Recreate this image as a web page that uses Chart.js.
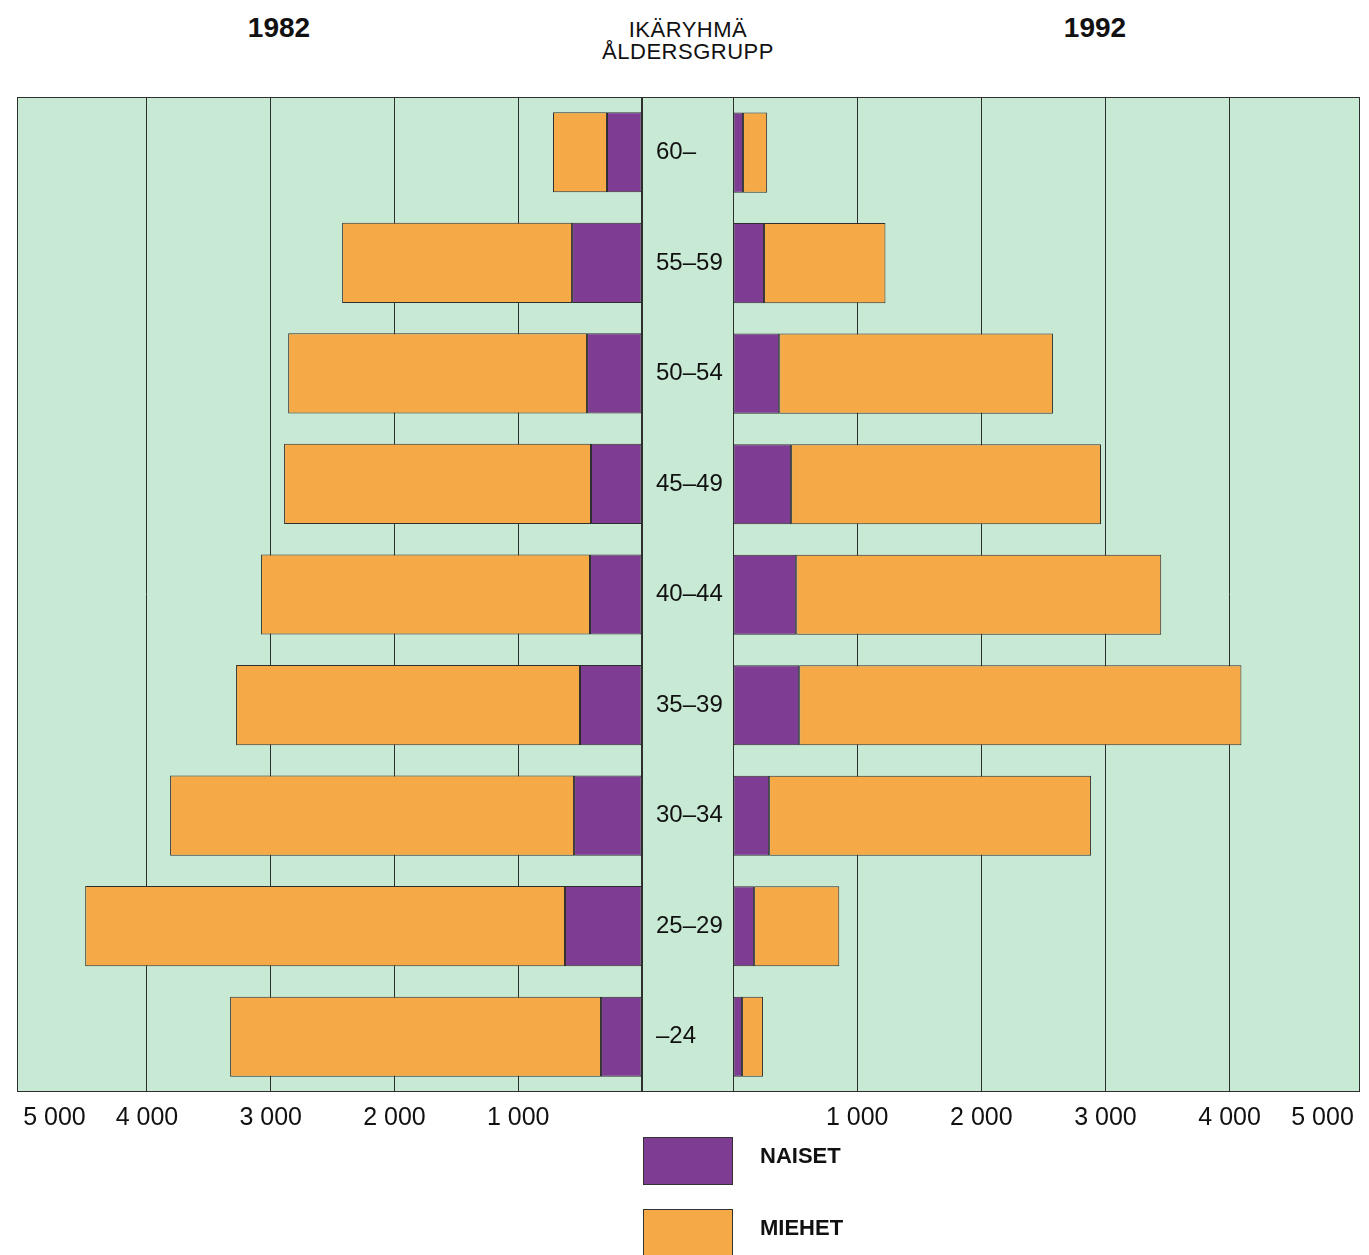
<!DOCTYPE html>
<html>
<head>
<meta charset="utf-8">
<script src="https://cdn.jsdelivr.net/npm/chart.js@4"></script>
<style>
  body { margin: 0; background: #fff; font-family: "Liberation Sans", Arial, sans-serif; color: #111; }
  #page { position: relative; width: 1369px; height: 1255px; overflow: hidden; }
  .title { position: absolute; text-align: center; }
  .year { font-size: 28px; font-weight: bold; line-height: 28px; width: 200px; top: 14px; }
  #head { font-size: 22px; line-height: 22px; letter-spacing: 0.5px; width: 300px; left: 538px; top: 19px; }
  #leftBox { position: absolute; left: 0; top: 87px; width: 652px; height: 1062px; }
  #rightBox { position: absolute; left: 632px; top: 83px; width: 737px; height: 1066px; }
  .swatch { position: absolute; left: 643px; width: 90px; border: 1px solid #333; box-sizing: border-box; }
  .legText { position: absolute; left: 760px; font-size: 22px; font-weight: bold; line-height: 22px; }
</style>
</head>
<body>
<div id="page">
  <div class="title year" style="left:179px">1982</div>
  <div class="title" id="head">IKÄRYHMÄ<br>ÅLDERSGRUPP</div>
  <div class="title year" style="left:995px">1992</div>
  <div id="leftBox"><canvas id="left"></canvas></div>
  <div id="rightBox"><canvas id="right"></canvas></div>
  <div id="legend"></div>
</div>
<script>
// ikäryhmät, nuorimmasta vanhimpaan
const ageGroups = ['–24', '25–29', '30–34', '35–39', '40–44', '45–49', '50–54', '55–59', '60–'];
const seriesNames = ['NAISET', 'MIEHET'];

// 1982
const women1982 = [331, 622, 549, 501, 420, 412, 444, 565, 283];
const men1982 = [2997, 3877, 3264, 2779, 2658, 2480, 2415, 1858, 436];

// 1992
const women1992 = [73, 170, 291, 533, 509, 468, 372, 250, 81];
const men1992 = [169, 686, 2593, 3562, 2940, 2496, 2205, 978, 194];

const tickValues = [0, 1000, 2000, 3000, 4000, 5000];

const purple = '#7e3c93';
const orange = '#f6a947';
const green = '#c8ead5';
const lineCol = '#2e2e2e';
const fontFamily = '"Liberation Sans", Arial, sans-serif';
const bandWidth = 91; // ikäryhmäkaista keskellä

function fmt(v) {
    if (v === 0) return '';
    return String(v).replace(/\B(?=(\d{3})+(?!\d))/g, ' ');
}

// vihreä tausta ja kehys
const frame = {
    id: 'frame',
    beforeDraw(chart, args, opts) {
        const ctx = chart.ctx;
        const a = chart.chartArea;
        const left = opts.withBand ? a.left - bandWidth : a.left;
        ctx.save();
        ctx.fillStyle = green;
        ctx.fillRect(left, a.top, a.right - left, a.bottom - a.top);
        ctx.strokeStyle = lineCol;
        ctx.lineWidth = 1;
        ctx.strokeRect(Math.round(left) + 0.5, Math.round(a.top) + 0.5, Math.round(a.right - left) - 1, Math.round(a.bottom - a.top) - 1);
        if (opts.withBand) {
            ctx.beginPath();
            ctx.moveTo(Math.round(a.left) + 0.5, a.top);
            ctx.lineTo(Math.round(a.left) + 0.5, a.bottom);
            ctx.stroke();
        }
        ctx.restore();
    }
};

function datasets(women, men) {
    const common = {
        borderColor: lineCol,
        borderWidth: 1,
        borderSkipped: false,
        barPercentage: 0.725,
        categoryPercentage: 1
    };
    return [
        Object.assign({ label: seriesNames[0], data: women, backgroundColor: purple }, common),
        Object.assign({ label: seriesNames[1], data: men, backgroundColor: orange }, common)
    ];
}

function xScale(reverse) {
    return {
        type: 'linear',
        stacked: true,
        reverse: reverse,
        min: 0,
        max: 5050,
        afterBuildTicks: function(scale) {
            scale.ticks = tickValues.map(v => ({ value: v }));
        },
        grid: {
            color: ctx => (ctx.tick && ctx.tick.value === 5000) ? 'rgba(0,0,0,0)' : lineCol,
            lineWidth: 1,
            drawTicks: false
        },
        border: { display: false },
        ticks: {
            align: 'inner',
            padding: 11,
            color: '#111',
            font: { family: fontFamily, size: 25 },
            callback: v => fmt(v)
        }
    };
}

const baseOptions = {
    indexAxis: 'y',
    responsive: true,
    maintainAspectRatio: false,
    animation: false,
    plugins: { legend: { display: false }, tooltip: { enabled: false } }
};

new Chart(document.getElementById('left'), {
    type: 'bar',
    data: { labels: ageGroups, datasets: datasets(women1982, men1982) },
    options: Object.assign({}, baseOptions, {
        layout: { padding: { left: 17, right: 10, top: 10, bottom: 5 } },
        plugins: Object.assign({}, baseOptions.plugins, { frame: { withBand: false } }),
        scales: {
            x: xScale(true),
            y: { stacked: true, reverse: true, display: false }
        }
    }),
    plugins: [frame]
});

new Chart(document.getElementById('right'), {
    type: 'bar',
    data: { labels: ageGroups, datasets: datasets(women1992, men1992) },
    options: Object.assign({}, baseOptions, {
        layout: { padding: { left: 24, right: 9, top: 10, bottom: 5 } },
        plugins: Object.assign({}, baseOptions.plugins, { frame: { withBand: true } }),
        scales: {
            x: xScale(false),
            y: {
                stacked: true,
                reverse: true,
                position: 'left',
                afterFit: function(scale) { scale.width = 77; },
                grid: { display: false },
                border: { display: false },
                ticks: {
                    crossAlign: 'far',
                    padding: 0,
                    color: '#111',
                    font: { family: fontFamily, size: 24 }
                }
            }
        }
    }),
    plugins: [frame]
});

// selite
const legend = document.getElementById('legend');
const legendColors = [purple, orange];
const legendTops = [1137, 1209];
seriesNames.forEach(function(name, i) {
    const box = document.createElement('div');
    box.className = 'swatch';
    box.style.top = legendTops[i] + 'px';
    box.style.height = (i === 0 ? 48 : 60) + 'px';
    box.style.background = legendColors[i];
    legend.appendChild(box);
    const txt = document.createElement('div');
    txt.className = 'legText';
    txt.style.top = (legendTops[i] + 8) + 'px';
    txt.textContent = name;
    legend.appendChild(txt);
});
</script>
</body>
</html>
